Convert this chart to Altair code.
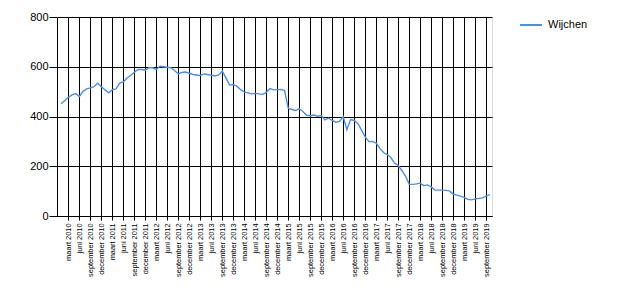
import altair as alt
import pandas as pd

series_name = "Wijchen"

# monthly values, januari 2010 .. oktober 2019 (month index 0..117)
values = [
    451, 463, 477, 487, 492, 480, 501, 511, 515, 520, 534, 520,
    507, 495, 508, 511, 534, 539, 555, 565, 578, 589, 589, 586,
    596, 596, 589, 602, 600, 598, 596, 585, 571, 577, 579, 574,
    569, 567, 565, 571, 569, 566, 563, 567, 582, 555, 527, 528,
    522, 508, 499, 495, 491, 493, 491, 489, 497, 512, 507, 508,
    509, 504, 433, 428, 424, 431, 420, 405, 403, 406, 401, 404,
    386, 393, 384, 377, 380, 400, 347, 388, 384, 372, 345, 318,
    299, 300, 293, 272, 255, 247, 235, 213, 203, 183, 160, 128,
    127, 129, 132, 122, 125, 117, 104, 104, 104, 103, 101, 88,
    84, 80, 75, 67, 65, 69, 71, 73, 80, 86,
]

month_names = ["maart", "juni", "september", "december"]
years = list(range(2010, 2020))
tick_labels = [f"{m} {y}" for y in years for m in month_names][:39]
tick_positions = [2 + 3 * i for i in range(len(tick_labels))]

y_ticks = [0, 200, 400, 600, 800]

df = pd.DataFrame({
    "month": list(range(len(values))),
    "value": values,
    "series": [series_name] * len(values),
})

label_array = "[" + ",".join("'" + t + "'" for t in tick_labels) + "]"
label_expr = f"{label_array}[round((datum.value - 2) / 3)]"

chart = alt.Chart(df).mark_line(strokeWidth=1.4).encode(
    x=alt.X(
        "month:Q",
        scale=alt.Scale(domain=[-1.1, 117.6], nice=False, zero=False),
        axis=alt.Axis(
            values=tick_positions,
            labelExpr=label_expr,
            labelAngle=270,
            labelFontSize=7.4,
            labelFont="Liberation Sans",
            labelColor="#000000",
            labelPadding=3,
            labelOverlap=False,
            labelFlush=False,
            tickSize=4,
            tickColor="#000000",
            domainColor="#000000",
            grid=True,
            gridColor="#000000",
            gridOpacity=1,
            gridWidth=1,
            title=None,
        ),
    ),
    y=alt.Y(
        "value:Q",
        scale=alt.Scale(domain=[0, 800], nice=False),
        axis=alt.Axis(
            values=y_ticks,
            labelFontSize=11,
            labelFont="Liberation Sans",
            labelColor="#000000",
            labelPadding=1,
            tickSize=8,
            tickColor="#000000",
            domainColor="#000000",
            grid=True,
            gridColor="#000000",
            gridOpacity=1,
            gridWidth=1,
            title=None,
        ),
    ),
    color=alt.Color(
        "series:N",
        scale=alt.Scale(domain=[series_name], range=["#4a8ef0"]),
        legend=alt.Legend(
            title=None,
            orient="none",
            legendX=462,
            legendY=-4,
            symbolType="stroke",
            symbolStrokeWidth=2,
            symbolSize=480,
            labelFontSize=11,
            labelFont="Liberation Sans",
            labelColor="#000000",
            labelOffset=5,
        ),
    ),
).properties(
    width=435,
    height=199,
    autosize=alt.AutoSizeParams(type="none"),
    padding={"left": 57, "top": 17, "right": 128, "bottom": 84},
).configure_view(
    strokeWidth=0
).configure(
    background="#ffffff"
)

chart.save("out.html", embed_options={"renderer": "svg", "actions": False})
